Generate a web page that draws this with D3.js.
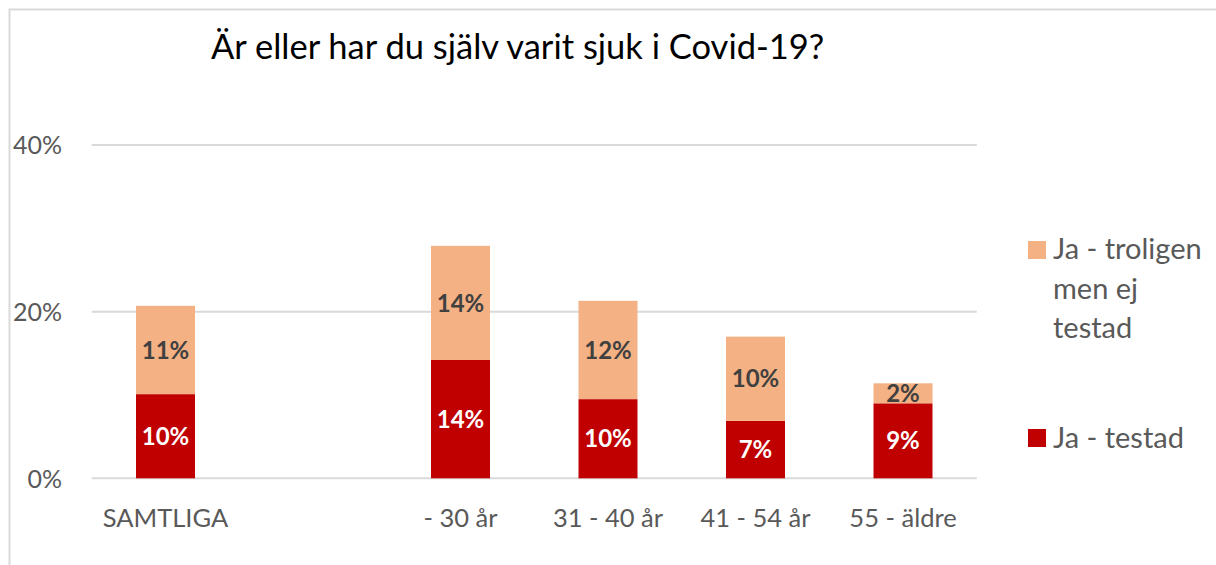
<!DOCTYPE html>
<meta charset="utf-8">
<html>
<head>
<style>
  body { margin: 0; background: #fff; }
  svg { display: block; }
  text { font-family: Lato, "Noto Sans", sans-serif; }
</style>
<script src="https://d3js.org/d3.v7.min.js"></script>
</head>
<body>
<svg width="1216" height="565"></svg>
<script>
// categories (the empty one keeps the gap after SAMTLIGA)
var categories = ["SAMTLIGA", "", "- 30 år", "31 - 40 år", "41 - 54 år", "55 - äldre"];
var testad    = [10.1, null, 14.2, 9.5, 6.9, 9.0];
var troligen  = [10.6, null, 13.7, 11.8, 10.1, 2.4];
var labelsTestad   = ["10%", "", "14%", "10%", "7%", "9%"];
var labelsTroligen = ["11%", "", "14%", "12%", "10%", "2%"];
var yTicks = [0, 20, 40];
var seriesNames = ["Ja - troligen men ej testad", "Ja - testad"];

var red = "#C00000", peach = "#F4B183";

var svg = d3.select("svg");

// outer chart border
svg.append("rect")
  .attr("x", 9.5).attr("y", 9.5)
  .attr("width", 1230).attr("height", 600)
  .attr("fill", "none")
  .attr("stroke", "#d9d9d9")
  .attr("stroke-width", 2);

var x = d3.scaleBand()
  .domain(categories.map((d, i) => i))
  .range([91.75, 976.75])
  .paddingInner(0.6)
  .paddingOuter(0.3);

var y = d3.scaleLinear().domain([0, 40]).range([478.3, 145]);

// gridlines
svg.append("g").selectAll("line")
  .data(yTicks)
  .enter().append("line")
  .attr("x1", 91.75).attr("x2", 976.75)
  .attr("y1", d => y(d)).attr("y2", d => y(d))
  .attr("stroke", "#d9d9d9")
  .attr("stroke-width", 2);

var yAxis = d3.axisLeft(y).tickValues(yTicks).tickFormat(d => d + "%").tickSize(0).tickPadding(0);
var gy = svg.append("g")
  .attr("transform", "translate(62,0)")
  .call(yAxis);
gy.select(".domain").remove();
gy.selectAll("text")
  .attr("fill", "#595959")
  .style("font-size", "25px")
  .attr("dy", "0.35em");

var xAxis = d3.axisBottom(x).tickFormat(i => categories[i]).tickSize(0).tickPadding(0);
var gx = svg.append("g")
  .attr("transform", "translate(0,527)")
  .call(xAxis);
gx.select(".domain").remove();
gx.selectAll("text")
  .attr("fill", "#595959")
  .style("font-size", "25.5px")
  .attr("dy", "0");

var idx = categories.map((d, i) => i).filter(i => testad[i] != null);

// bottom segment
svg.append("g").selectAll("rect")
  .data(idx)
  .enter().append("rect")
  .attr("x", i => x(i))
  .attr("width", x.bandwidth())
  .attr("y", i => y(testad[i]))
  .attr("height", i => y(0) - y(testad[i]))
  .attr("fill", red);

// top segment
svg.append("g").selectAll("rect")
  .data(idx)
  .enter().append("rect")
  .attr("x", i => x(i))
  .attr("width", x.bandwidth())
  .attr("y", i => y(testad[i] + troligen[i]))
  .attr("height", i => y(testad[i]) - y(testad[i] + troligen[i]))
  .attr("fill", peach);

// data labels
svg.append("g").selectAll("text")
  .data(idx)
  .enter().append("text")
  .attr("x", i => x(i) + x.bandwidth() / 2)
  .attr("y", i => (y(0) + y(testad[i])) / 2)
  .attr("dy", "0.36em")
  .attr("text-anchor", "middle")
  .attr("fill", "#fff")
  .style("font-size", "24px")
  .style("font-weight", "bold")
  .text(i => labelsTestad[i]);

svg.append("g").selectAll("text")
  .data(idx)
  .enter().append("text")
  .attr("x", i => x(i) + x.bandwidth() / 2)
  .attr("y", i => (y(testad[i]) + y(testad[i] + troligen[i])) / 2)
  .attr("dy", "0.36em")
  .attr("text-anchor", "middle")
  .attr("fill", "#404040")
  .style("font-size", "24px")
  .style("font-weight", "bold")
  .text(i => labelsTroligen[i]);

// title
svg.append("text")
  .attr("x", 211)
  .attr("y", 59)
  .attr("fill", "#000")
  .style("font-size", "34.5px")
  .text("Är eller har du själv varit sjuk i Covid-19?");

// legend
var legend = svg.append("g");
var leg1 = legend.append("g");
leg1.append("rect").attr("x", 1028).attr("y", 241).attr("width", 18).attr("height", 18).attr("fill", peach);
leg1.append("text")
  .attr("x", 1053).attr("y", 259)
  .attr("fill", "#595959")
  .style("font-size", "29px")
  .selectAll("tspan")
  .data(["Ja - troligen", "men ej", "testad"])
  .enter().append("tspan")
  .attr("x", 1053)
  .attr("dy", (d, i) => i === 0 ? 0 : 39.5)
  .text(d => d);

var leg2 = legend.append("g");
leg2.append("rect").attr("x", 1028).attr("y", 429).attr("width", 18).attr("height", 18).attr("fill", red);
leg2.append("text")
  .attr("x", 1053).attr("y", 448)
  .attr("fill", "#595959")
  .style("font-size", "29px")
  .text(seriesNames[1]);
</script>
</body>
</html>
